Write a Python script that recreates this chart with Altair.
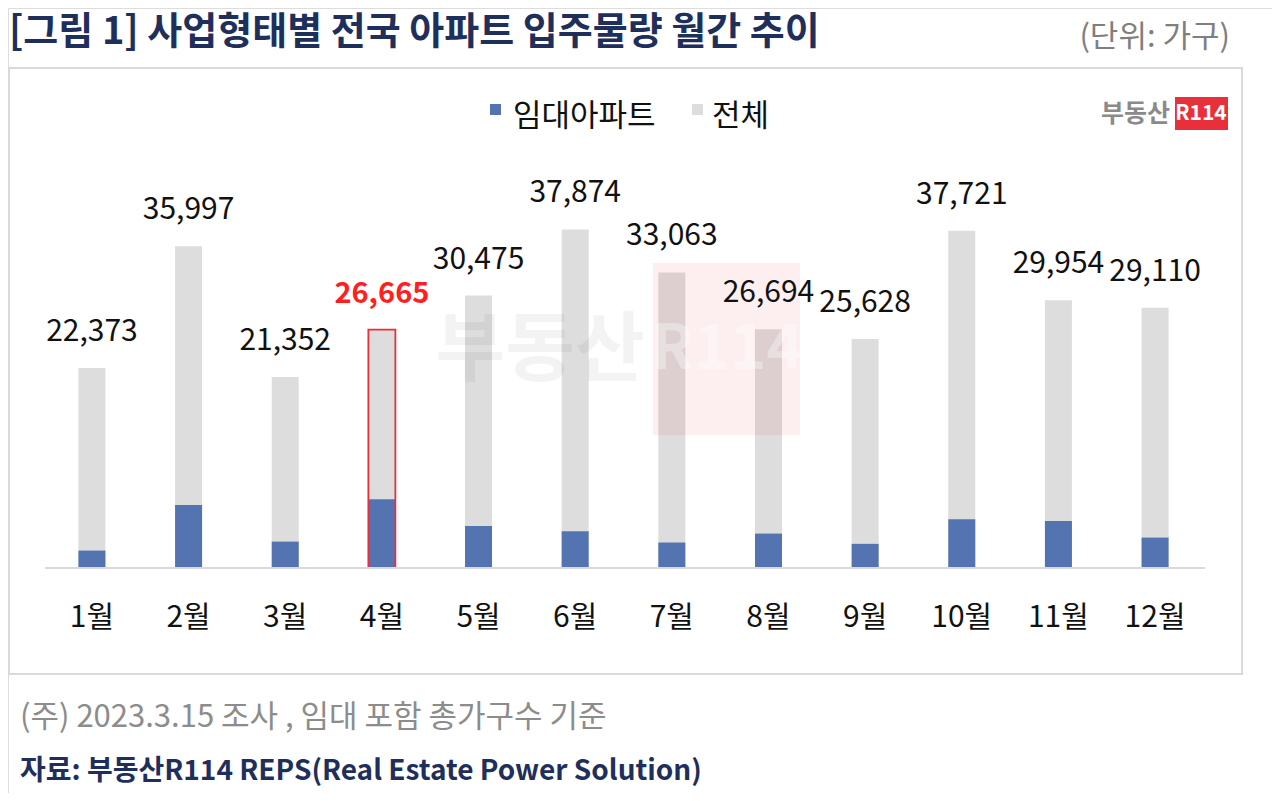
import altair as alt
import pandas as pd

# ---------------- data ----------------
months = ["1월", "2월", "3월", "4월", "5월", "6월", "7월", "8월", "9월", "10월", "11월", "12월"]
total = [22373, 35997, 21352, 26665, 30475, 37874, 33063, 26694, 25628, 37721, 29954, 29110]
rental = [1950, 7050, 2950, 7700, 4700, 4100, 2850, 3850, 2700, 5450, 5250, 3400]
highlight_month = "4월"

title_text = "[그림 1] 사업형태별 전국 아파트 입주물량 월간 추이"
unit_text = "(단위: 가구)"
legend_labels = ["임대아파트", "전체"]
note_text = "(주) 2023.3.15 조사 , 임대 포함 총가구수 기준"
source_text = "자료: 부동산R114 REPS(Real Estate Power Solution)"

df = pd.DataFrame({"month": months, "total": total, "rental": rental})
df["label"] = df["total"].map(lambda v: f"{v:,}")

# ---------------- style ----------------
FONT = "Noto Sans CJK KR"
BLUE = "#5374B0"
GREY = "#DDDDDD"
RED = "#E8303A"
NAVY = "#1F2F5C"
W, H = 1264, 785

xs = alt.Scale(domain=months, range=[35.6, 1195.4], paddingInner=0, paddingOuter=0)
ys = alt.Scale(domain=[0, 40000], range=[560, 202.4])
X = alt.X("month:N", scale=xs, axis=None, sort=months)

base = alt.Chart(df)

grey_bars = base.mark_bar(size=27, color=GREY).encode(
    x=X, y=alt.Y("total:Q", scale=ys, axis=None))
blue_bars = base.mark_bar(size=27, color=BLUE).encode(
    x=X, y=alt.Y("rental:Q", scale=ys, axis=None))
hl_outline = base.transform_filter(alt.datum.month == highlight_month).mark_bar(
    size=27, fillOpacity=0, stroke=RED, strokeWidth=1.8).encode(
    x=X, y=alt.Y("total:Q", scale=ys, axis=None))

labels = base.transform_filter(alt.datum.month != highlight_month).mark_text(
    font=FONT, fontSize=30, color="#111111", baseline="middle", dy=-36).encode(
    x=X, y=alt.Y("total:Q", scale=ys, axis=None), text="label:N")
hl_label = base.transform_filter(alt.datum.month == highlight_month).mark_text(
    font=FONT, fontSize=29, fontWeight="bold", color="#FF1F1F", baseline="middle", dy=-36).encode(
    x=X, y=alt.Y("total:Q", scale=ys, axis=None), text="label:N")

month_labels = base.mark_text(font=FONT, fontSize=30, color="#111111", baseline="middle").encode(
    x=X, y=alt.value(610), text="month:N")

axis_line = alt.Chart(pd.DataFrame({"a": [0]})).mark_rule(color="#D9D9D9", strokeWidth=2).encode(
    x=alt.value(37), x2=alt.value(1197), y=alt.value(560))

one = pd.DataFrame({"a": [0]})

def txt(t, x, y, size, color, weight="normal", align="left", opacity=1.0):
    return alt.Chart(one).mark_text(
        text=t, font=FONT, fontSize=size, color=color, fontWeight=weight,
        align=align, baseline="middle", opacity=opacity).encode(
        x=alt.value(x), y=alt.value(y))

def box(x1, y1, x2, y2, fill=None, stroke=None, sw=0, opacity=1.0):
    kw = {}
    if fill is not None:
        kw["fill"] = fill
        kw["fillOpacity"] = opacity
    else:
        kw["fillOpacity"] = 0
    if stroke is not None:
        kw["stroke"] = stroke
        kw["strokeWidth"] = sw
    return alt.Chart(one).mark_rect(**kw).encode(
        x=alt.value(x1), x2=alt.value(x2), y=alt.value(y1), y2=alt.value(y2))

frame = box(1, 60, 1234, 666, stroke="#D9D9D9", sw=2)

title = txt(title_text, 1, 25, 38, NAVY, weight="bold")
unit = txt(unit_text, 1222, 30, 31, "#7F7F7F", align="right")

leg_blue = box(482, 96, 493, 107, fill=BLUE)
leg_blue_t = txt(legend_labels[0], 505, 109, 31, "#111111")
leg_grey = box(684, 96, 695, 107, fill=GREY)
leg_grey_t = txt(legend_labels[1], 704, 109, 31, "#111111")

logo_rect = box(1167, 89, 1220, 122, fill=RED)
logo_r = txt("R114", 1193, 106, 21, "white", weight="bold", align="center")
logo_k = txt("부동산", 1162, 106, 25, "#8A8A8A", weight="bold", align="right")

wm_text = txt("부동산", 532, 344, 76, "#000000", weight="bold", align="center", opacity=0.045)
wm_rect = box(645, 255, 792, 427, fill=RED, opacity=0.08)
wm_r = txt("R114", 719, 342, 62, "#FFFFFF", weight="bold", align="center", opacity=0.35)

note = txt(note_text, 12, 710, 31, "#8C8C8C")
source = txt(source_text, 12, 764, 28, NAVY, weight="bold")

chart = alt.layer(
    frame, title, unit,
    grey_bars, blue_bars, hl_outline,
    wm_text, wm_rect, wm_r,
    axis_line, labels, hl_label, month_labels,
    leg_blue, leg_blue_t, leg_grey, leg_grey_t,
    logo_rect, logo_r, logo_k,
    note, source,
).properties(
    width=W, height=H,
    autosize=alt.AutoSizeParams(type="none"),
    padding=0,
).configure_view(stroke=None).configure(background="white")

chart.save("out.html", embed_options={"renderer": "svg", "actions": False})
